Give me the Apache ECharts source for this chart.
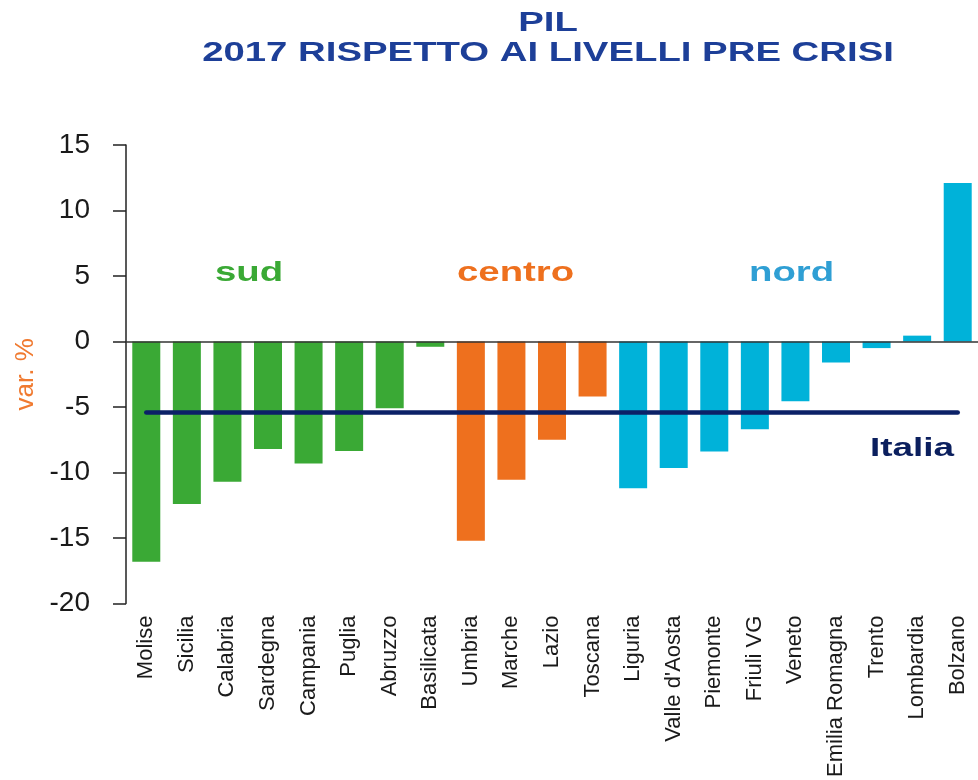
<!DOCTYPE html>
<html>
<head>
<meta charset="utf-8">
<script src="https://cdn.jsdelivr.net/npm/echarts@6/dist/echarts.min.js"></script>
<style>
  html, body { margin: 0; padding: 0; background: #fff; }
  #main { width: 978px; height: 780px; }
</style>
</head>
<body>
<div id="main"></div>
<script>
// regions, left to right
var categories = ['Molise', 'Sicilia', 'Calabria', 'Sardegna', 'Campania', 'Puglia', 'Abruzzo', 'Basilicata',
    'Umbria', 'Marche', 'Lazio', 'Toscana',
    'Liguria', "Valle d'Aosta", 'Piemonte', 'Friuli VG', 'Veneto', 'Emilia Romagna', 'Trento', 'Lombardia', 'Bolzano'];
var values = [-16.8, -12.4, -10.7, -8.2, -9.3, -8.35, -5.1, -0.4,
    -15.2, -10.55, -7.5, -4.2,
    -11.2, -9.65, -8.4, -6.7, -4.55, -1.6, -0.5, 0.45, 12.1];
var areas = ['sud', 'sud', 'sud', 'sud', 'sud', 'sud', 'sud', 'sud',
    'centro', 'centro', 'centro', 'centro',
    'nord', 'nord', 'nord', 'nord', 'nord', 'nord', 'nord', 'nord', 'nord'];
var italia = -5.4;
var yTicks = [-20, -15, -10, -5, 0, 5, 10, 15];

var areaColors = { sud: '#3aa935', centro: '#ee701e', nord: '#00b2d9' };
var FONT = 'Liberation Sans, Arial, sans-serif';

// wide bold label (the source uses horizontally stretched type)
function wideText(x, y, txt, color, size, align){
    return {
        type: 'text', x: x, y: y, scaleX: 1.42,
        style: { text: txt, fill: color, font: 'bold ' + size + 'px ' + FONT,
                 textAlign: align || 'left', textVerticalAlign: 'middle' }
    };
}

function drawChart(){
    var myChart = echarts.init(document.getElementById('main'));

    var barData = values.map(function(v, i){
        return { value: v, itemStyle: { color: areaColors[areas[i]] } };
    });

    var option = {
        backgroundColor: '#fff',
        animation: false,
        textStyle: { fontFamily: FONT },
        grid: { left: 126, top: 145, width: 855, height: 459 },
        xAxis: {
            type: 'category',
            data: categories,
            axisLine: { show: false },
            axisTick: { show: false },
            axisLabel: { rotate: 90, color: '#1a1a1a', fontSize: 22, margin: 12, interval: 0 }
        },
        yAxis: {
            type: 'value',
            min: yTicks[0],
            max: yTicks[yTicks.length - 1],
            interval: 5,
            name: 'var. %',
            nameLocation: 'middle',
            nameGap: 79,
            nameTextStyle: { color: '#f07a30', fontSize: 26 },
            axisLine: { show: true, lineStyle: { color: '#222', width: 1.5 } },
            axisTick: { show: true, length: 13, lineStyle: { color: '#222', width: 1.5 } },
            axisLabel: { color: '#1a1a1a', fontSize: 28, margin: 36 },
            splitLine: { show: false }
        },
        series: [{
            type: 'bar',
            data: barData,
            barWidth: 28,
            markLine: {
                silent: true,
                symbol: 'none',
                label: { show: false },
                lineStyle: { type: 'solid' },
                data: [
                    { yAxis: 0, lineStyle: { color: '#333', width: 1.5, type: 'solid' } },
                    [{ coord: [categories[0], italia], lineStyle: { color: '#0b2167', width: 4.5, type: 'solid', cap: 'round' } },
                     { coord: [categories[categories.length - 1], italia] }]
                ]
            }
        }],
        graphic: [
            wideText(548, 24, 'PIL', '#1d3f98', 27, 'center'),
            wideText(548, 54, '2017 RISPETTO AI LIVELLI PRE CRISI', '#1d3f98', 27, 'center'),
            wideText(215, 274, 'sud', areaColors.sud, 27),
            wideText(457, 274, 'centro', areaColors.centro, 27),
            wideText(749, 274, 'nord', '#2f9fd4', 27),
            wideText(870, 449, 'Italia', '#0b1f5e', 26)
        ]
    };

    myChart.setOption(option);
}

drawChart();
</script>
</body>
</html>
